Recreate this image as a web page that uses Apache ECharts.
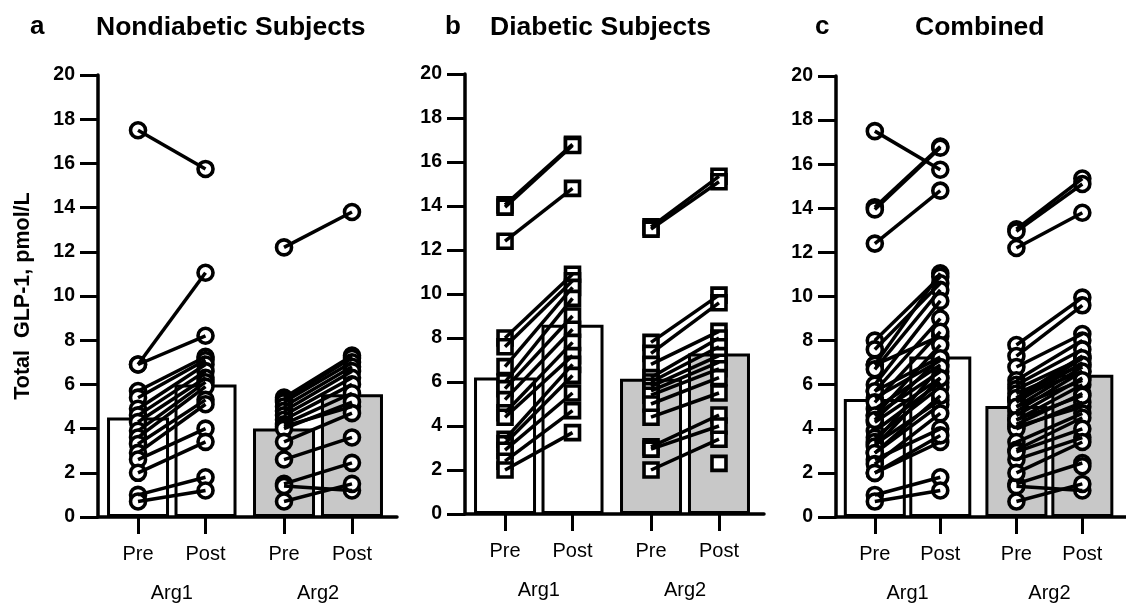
<!DOCTYPE html>
<html>
<head>
<meta charset="utf-8">
<script src="https://cdn.jsdelivr.net/npm/echarts@6/dist/echarts.min.js"></script>
<style>
  html, body { margin: 0; padding: 0; background: #fff; }
  #chart { width: 1126px; height: 606px; }
</style>
</head>
<body>
<div id="chart"></div>
<script>
// labels
var timeLabels = ['Pre', 'Post', 'Pre', 'Post'];
var argLabels = ['Arg1', 'Arg2'];

// bar heights (group means): Arg1 Pre, Arg1 Post, Arg2 Pre, Arg2 Post
var nondiabeticMeans = [4.5, 6.0, 4.0, 5.55];
var diabeticMeans = [6.2, 8.6, 6.15, 7.3];
var combinedMeans = [5.35, 7.28, 5.03, 6.45];

// individual subjects, nondiabetic
var ndArg1Pre  = [17.5, 6.9, 6.9, 5.7, 5.4, 4.9, 4.6, 4.3, 3.9, 3.6, 3.3, 2.9, 2.6, 2.0, 1.0, 0.7];
var ndArg1Post = [15.75, 11.05, 8.2, 7.25, 7.1, 6.9, 6.6, 6.3, 6.1, 5.9, 5.3, 5.1, 4.0, 3.4, 1.8, 1.2];
var ndArg2Pre  = [12.2, 5.4, 5.3, 5.2, 5.0, 4.8, 4.6, 4.4, 4.2, 4.1, 4.0, 3.4, 2.6, 1.5, 1.4, 0.7];
var ndArg2Post = [13.8, 7.3, 7.2, 7.0, 6.8, 6.6, 6.3, 6.0, 5.6, 5.0, 5.2, 4.7, 3.6, 2.45, 1.2, 1.5];

// individual subjects, diabetic
var dArg1Pre  = [14.05, 13.95, 12.4, 8.0, 7.6, 6.7, 6.0, 5.7, 5.2, 4.6, 4.4, 3.4, 3.2, 2.9, 2.4, 2.0];
var dArg1Post = [16.8, 16.75, 14.8, 10.9, 10.6, 10.3, 9.8, 9.0, 8.4, 7.8, 7.2, 6.8, 6.3, 5.5, 4.7, 3.7];
var dArg2Pre  = [13.05, 12.95, 7.8, 7.3, 6.8, 6.2, 6.0, 5.8, 5.6, 5.4, 5.0, 4.4, 3.05, 2.95, 2.0, null];
var dArg2Post = [15.35, 15.1, 9.95, 9.6, 8.3, 8.0, 7.6, 7.2, 6.9, 6.6, 6.2, 5.5, 4.5, 4.0, 3.4, 2.3];

// x positions of the four bars (Pre/Post, with a gap between Arg1 and Arg2)
var slotPos = [0, 1, 2.163, 3.17];
var argPos = [0.5, 2.667];
var FONT = 'Liberation Sans, Arial, Helvetica, sans-serif';

var panels = [
  { letter: 'a', title: 'Nondiabetic Subjects', letterLeft: 25, titleLeft: 91,
    left: 98, top: 75, height: 442, symbol: 'circle', means: nondiabeticMeans,
    arg1: [ndArg1Pre, ndArg1Post], arg2: [ndArg2Pre, ndArg2Post] },
  { letter: 'b', title: 'Diabetic Subjects', letterLeft: 440, titleLeft: 485,
    left: 465, top: 74, height: 440, symbol: 'rect', means: diabeticMeans,
    arg1: [dArg1Pre, dArg1Post], arg2: [dArg2Pre, dArg2Post] },
  { letter: 'c', title: 'Combined', letterLeft: 810, titleLeft: 910,
    left: 836, top: 76, height: 441, symbol: 'circle', means: combinedMeans,
    arg1: [ndArg1Pre.concat(dArg1Pre), ndArg1Post.concat(dArg1Post)],
    arg2: [ndArg2Pre.concat(dArg2Pre), ndArg2Post.concat(dArg2Post)] }
];

var titles = [], grids = [], xAxes = [], yAxes = [], series = [];

function nearest(v) {
  var best = 0;
  for (var i = 1; i < slotPos.length; i++) {
    if (Math.abs(slotPos[i] - v) < Math.abs(slotPos[best] - v)) best = i;
  }
  return best;
}

panels.forEach(function (p, k) {
  titles.push({ text: p.letter, left: p.letterLeft, top: 9,
    textStyle: { fontSize: 26, fontWeight: 'bold', color: '#000', fontFamily: FONT } });
  titles.push({ text: p.title, left: p.titleLeft, top: 9,
    textStyle: { fontSize: 26.5, fontWeight: 'bold', color: '#000', fontFamily: FONT } });

  grids.push({ left: p.left, top: p.top, width: 299, height: p.height });

  xAxes.push({
    type: 'value', gridIndex: k, position: 'bottom', min: -0.593, max: 3.837,
    axisLine: { show: true, onZero: false, lineStyle: { color: '#000', width: 3.5 } },
    axisTick: { show: true, customValues: slotPos, length: 17, lineStyle: { color: '#000', width: 3 } },
    axisLabel: { customValues: slotPos, margin: 27, fontSize: 20, color: '#000', fontFamily: FONT,
      formatter: function (v) { return timeLabels[nearest(v)]; } },
    splitLine: { show: false }
  });
  xAxes.push({
    type: 'value', gridIndex: k, position: 'bottom', offset: 0, min: -0.593, max: 3.837,
    axisLine: { show: false, onZero: false }, axisTick: { show: false },
    axisLabel: { customValues: argPos, margin: 66, fontSize: 20, color: '#000', fontFamily: FONT,
      formatter: function (v) { return v < 1.5 ? argLabels[0] : argLabels[1]; } },
    splitLine: { show: false }
  });

  var yAxis = {
    type: 'value', gridIndex: k, min: 0, max: 20, interval: 2,
    axisLine: { show: true, onZero: false, lineStyle: { color: '#000', width: 3.5 } },
    axisTick: { show: true, length: 18, lineStyle: { color: '#000', width: 3 } },
    axisLabel: { fontSize: 19.5, fontWeight: 'bold', color: '#000', margin: 23, fontFamily: FONT },
    splitLine: { show: false }
  };
  if (k === 0) {
    yAxis.name = 'Total  GLP-1, pmol/L';
    yAxis.nameLocation = 'middle';
    yAxis.nameGap = 64;
    yAxis.nameTextStyle = { fontSize: 21.5, fontWeight: 'bold', color: '#000', fontFamily: FONT };
  }
  yAxes.push(yAxis);

  // bars
  series.push({
    type: 'bar', xAxisIndex: 2 * k, yAxisIndex: k, barWidth: 62, z: 1, silent: true,
    data: p.means.map(function (v, i) {
      return { value: [slotPos[i], v],
        itemStyle: { color: i < 2 ? '#fff' : '#c8c8c8', borderColor: '#000', borderWidth: 3 } };
    })
  });

  // subject markers
  var pts = [];
  [p.arg1, p.arg2].forEach(function (arg, a) {
    arg[0].forEach(function (v, j) {
      if (v != null) pts.push([slotPos[2 * a], v]);
      if (arg[1][j] != null) pts.push([slotPos[2 * a + 1], arg[1][j]]);
    });
  });
  series.push({
    type: 'scatter', xAxisIndex: 2 * k, yAxisIndex: k, z: 2, silent: true,
    symbol: p.symbol, symbolSize: p.symbol === 'rect' ? 14 : 15,
    itemStyle: { color: '#fff', borderColor: '#000', borderWidth: 3.6, opacity: 1 },
    data: pts
  });

  // paired lines
  [p.arg1, p.arg2].forEach(function (arg, a) {
    arg[0].forEach(function (v, j) {
      if (v == null || arg[1][j] == null) return;
      series.push({
        type: 'line', xAxisIndex: 2 * k, yAxisIndex: k, z: 3, silent: true,
        showSymbol: false, symbol: 'none',
        lineStyle: { color: '#000', width: 3.5 },
        data: [[slotPos[2 * a], v], [slotPos[2 * a + 1], arg[1][j]]]
      });
    });
  });
});

var chart = echarts.init(document.getElementById('chart'));
chart.setOption({
  animation: false,
  backgroundColor: '#fff',
  title: titles,
  grid: grids,
  xAxis: xAxes,
  yAxis: yAxes,
  series: series
});
</script>
</body>
</html>
